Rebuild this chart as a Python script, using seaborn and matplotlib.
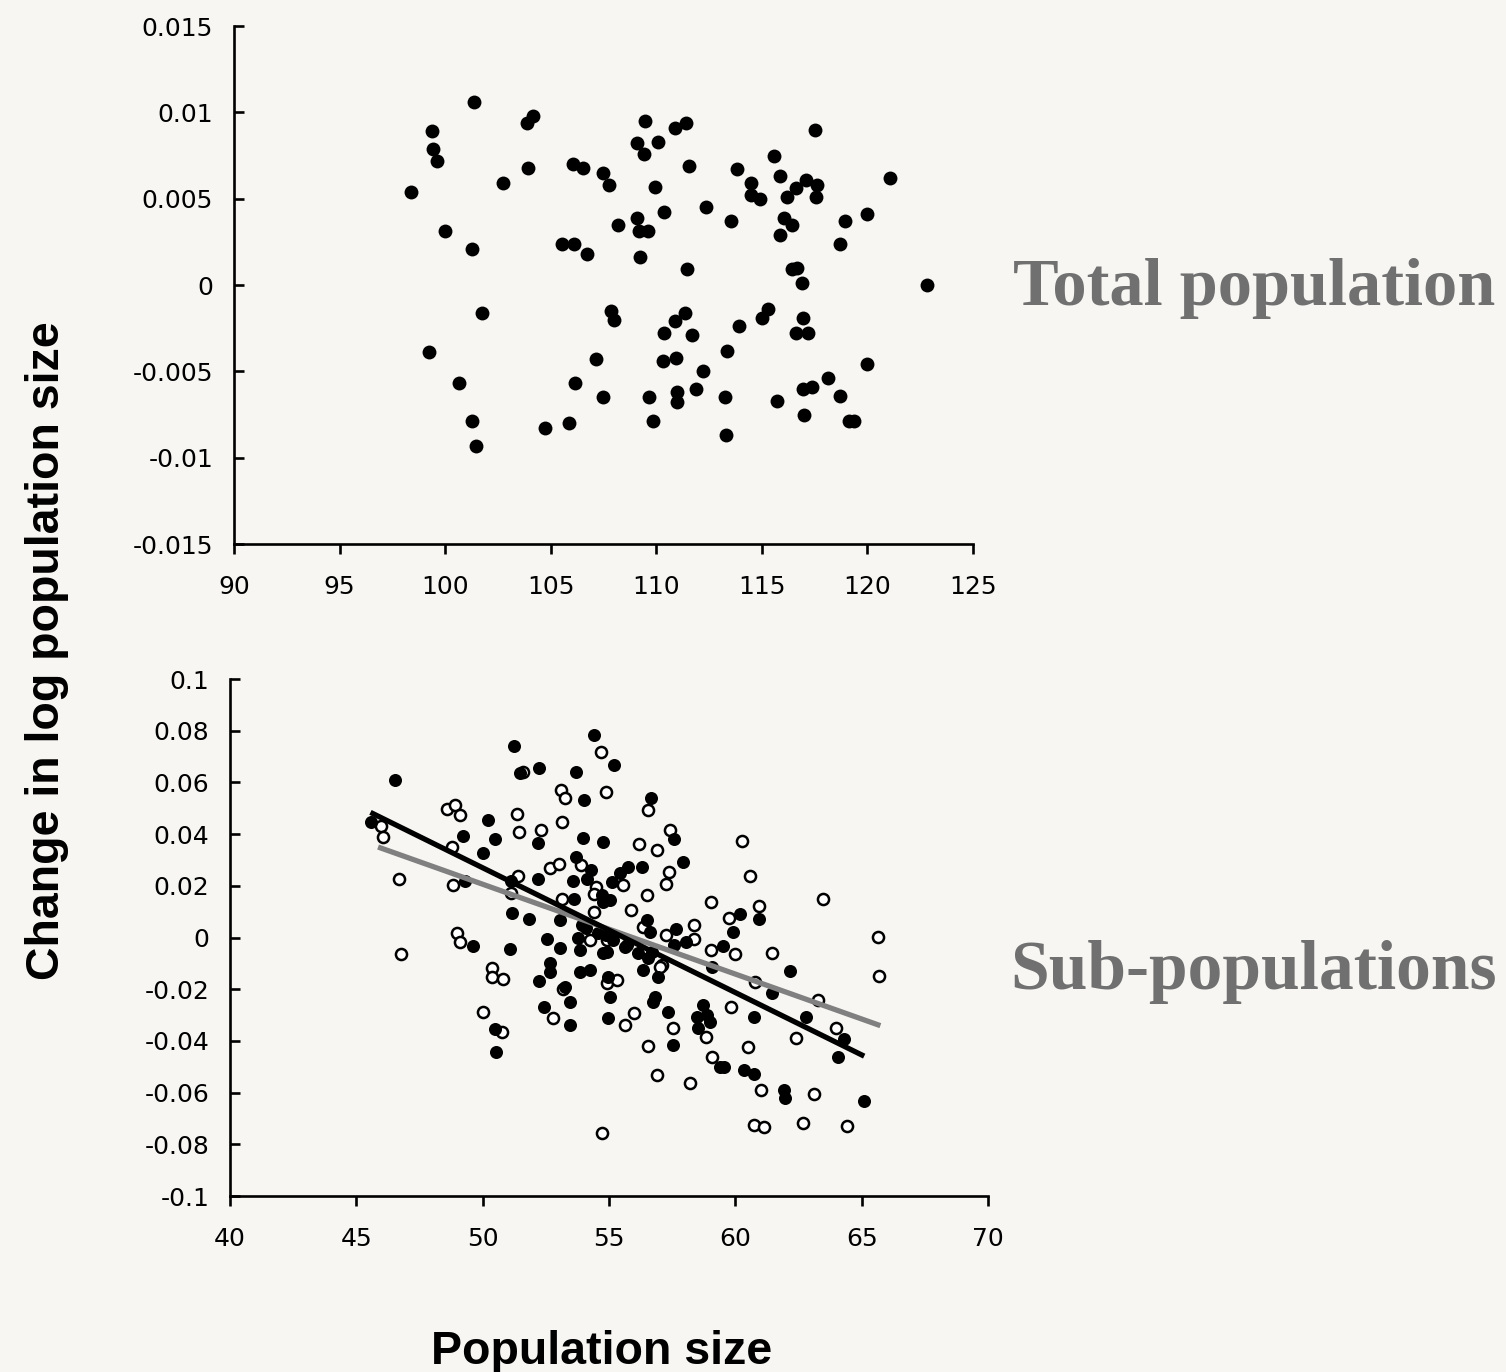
import matplotlib
matplotlib.use("Agg")
import matplotlib.pyplot as plt
import seaborn as sns
import numpy as np

# ---------------- data ----------------
total_x = [101.37, 99.38, 99.43, 99.62, 98.38, 104.17, 103.88, 103.93, 102.74, 109.47,
           110.90, 109.09, 109.40, 110.10, 106.06, 106.53, 107.48, 107.76, 109.94, 110.37,
           108.20, 109.09, 109.19, 109.60, 109.23, 100.00, 101.27, 105.54, 106.10, 106.72,
           101.75, 107.86, 108.00, 99.24, 100.66, 107.15, 106.15, 107.48, 109.66, 109.85,
           110.37, 110.90, 111.36, 110.32, 110.94, 111.00, 111.00, 101.27, 101.46, 104.73,
           105.87, 111.40, 111.55, 117.52, 115.58, 113.83, 115.86, 114.49, 114.49, 114.92,
           116.62, 117.10, 117.60, 117.57, 116.20, 121.08, 112.36, 113.54, 116.05, 116.43,
           115.86, 118.94, 119.99, 118.70, 111.46, 116.43, 116.67, 116.90, 122.83, 115.30,
           115.00, 116.95, 113.92, 111.70, 116.62, 117.20, 113.35, 112.20, 120.00, 118.14,
           116.95, 117.38, 111.90, 113.26, 115.72, 118.70, 117.00, 119.13, 119.37, 113.30]
total_y = [0.0106, 0.0089, 0.0079, 0.0072, 0.0054, 0.0098, 0.0094, 0.0068, 0.0059, 0.0095,
           0.0091, 0.0082, 0.0076, 0.0083, 0.0070, 0.0068, 0.0065, 0.0058, 0.0057, 0.0042,
           0.0035, 0.0039, 0.0031, 0.0031, 0.0016, 0.0031, 0.0021, 0.0024, 0.0024, 0.0018,
           -0.0016, -0.0015, -0.0020, -0.0039, -0.0057, -0.0043, -0.0057, -0.0065, -0.0065, -0.0079,
           -0.0028, -0.0021, -0.0016, -0.0044, -0.0042, -0.0062, -0.0068, -0.0079, -0.0093, -0.0083,
           -0.0080, 0.0094, 0.0069, 0.0090, 0.0075, 0.0067, 0.0063, 0.0059, 0.0052, 0.0050,
           0.0056, 0.0061, 0.0058, 0.0051, 0.0051, 0.0062, 0.0045, 0.0037, 0.0039, 0.0035,
           0.0029, 0.0037, 0.0041, 0.0024, 0.0009, 0.0009, 0.0010, 0.0001, 0.0000, -0.0014,
           -0.0019, -0.0019, -0.0024, -0.0029, -0.0028, -0.0028, -0.0038, -0.0050, -0.0046, -0.0054,
           -0.0060, -0.0059, -0.0060, -0.0065, -0.0067, -0.0064, -0.0075, -0.0079, -0.0079, -0.0087]

# sub-population A (filled circles)
subA_x = [51.24, 46.53, 52.23, 51.48, 45.58, 50.20, 49.22, 50.49, 50.00, 52.19,
          52.19, 49.30, 51.16, 51.83, 53.06, 52.55, 53.06, 51.08, 49.60, 52.66,
          52.66, 52.23, 53.26, 53.45, 52.43, 53.45, 50.49, 50.53, 51.12, 54.40,
          55.20, 53.69, 54.00, 56.66, 57.57, 53.97, 54.76, 57.93, 53.69, 54.29,
          55.75, 55.43, 56.30, 53.57, 54.13, 55.12, 54.72, 55.04, 54.76, 53.61,
          56.50, 56.62, 57.65, 58.05, 57.57, 53.93, 53.77, 54.56, 55.16, 55.71,
          53.85, 54.76, 56.15, 53.85, 54.25, 54.96, 56.34, 56.94, 55.04, 56.82,
          56.74, 57.33, 54.96, 57.53, 58.72, 58.48, 58.88, 59.00, 58.52, 59.39,
          60.93, 60.18, 59.90, 59.51, 59.07, 62.16, 61.45, 60.74, 62.80, 64.30,
          64.06, 59.55, 60.34, 60.74, 61.92, 61.96, 65.09, 56.54, 56.70, 54.10,
          54.90, 55.63, 54.92]
subA_y = [0.0741, 0.0610, 0.0656, 0.0636, 0.0448, 0.0455, 0.0393, 0.0381, 0.0327, 0.0366,
          0.0226, 0.0219, 0.0095, 0.0072, 0.0068, -0.0006, -0.0041, -0.0045, -0.0033, -0.0099,
          -0.0134, -0.0168, -0.0191, -0.0250, -0.0269, -0.0339, -0.0354, -0.0443, 0.0219, 0.0784,
          0.0668, 0.0640, 0.0532, 0.0540, 0.0381, 0.0385, 0.0370, 0.0292, 0.0312, 0.0261,
          0.0273, 0.0249, 0.0273, 0.0219, 0.0226, 0.0215, 0.0165, 0.0145, 0.0138, 0.0149,
          0.0068, 0.0021, 0.0033, -0.0017, -0.0029, 0.0048, -0.0002, 0.0017, -0.0010, -0.0029,
          -0.0048, -0.0060, -0.0060, -0.0133, -0.0126, -0.0153, -0.0126, -0.0153, -0.0230, -0.0230,
          -0.0250, -0.0288, -0.0312, -0.0416, -0.0261, -0.0308, -0.0300, -0.0327, -0.0350, -0.0501,
          0.0072, 0.0091, 0.0021, -0.0033, -0.0114, -0.0130, -0.0215, -0.0308, -0.0308, -0.0393,
          -0.0462, -0.0501, -0.0513, -0.0528, -0.0590, -0.0621, -0.0633, -0.0081, -0.0056, 0.0035,
          0.0008, -0.0037, -0.0056]

# sub-population B (open circles)
subB_x = [45.98, 46.06, 48.59, 48.90, 49.10, 46.69, 48.82, 48.78, 51.36, 51.44,
          52.31, 53.10, 53.26, 53.14, 52.66, 53.02, 51.40, 51.12, 53.14, 48.98,
          49.10, 46.77, 51.60, 50.37, 50.37, 50.80, 53.18, 52.78, 50.00, 50.77,
          54.68, 54.88, 56.54, 57.41, 56.19, 56.90, 53.89, 57.37, 57.25, 55.55,
          54.48, 54.40, 56.50, 59.03, 55.87, 54.40, 56.34, 58.36, 57.25, 58.36,
          59.03, 54.25, 54.92, 57.10, 54.92, 55.31, 57.02, 55.99, 55.63, 57.53,
          56.54, 56.90, 58.20, 54.72, 58.84, 59.07, 60.26, 60.58, 63.47, 60.93,
          59.75, 59.98, 61.45, 60.78, 63.27, 59.83, 63.98, 62.40, 60.50, 61.01,
          63.11, 60.74, 61.13, 62.68, 64.42, 65.64, 65.68]
subB_y = [0.0432, 0.0389, 0.0497, 0.0513, 0.0474, 0.0226, 0.0203, 0.0350, 0.0478, 0.0408,
          0.0416, 0.0571, 0.0540, 0.0447, 0.0269, 0.0285, 0.0238, 0.0172, 0.0149, 0.0017,
          -0.0017, -0.0064, 0.0640, -0.0118, -0.0153, -0.0161, -0.0199, -0.0312, -0.0288, -0.0366,
          0.0718, 0.0563, 0.0493, 0.0416, 0.0362, 0.0339, 0.0281, 0.0253, 0.0207, 0.0203,
          0.0196, 0.0168, 0.0165, 0.0138, 0.0107, 0.0099, 0.0041, 0.0048, 0.0010, -0.0006,
          -0.0048, -0.0010, -0.0010, -0.0106, -0.0176, -0.0164, -0.0114, -0.0292, -0.0339, -0.0350,
          -0.0420, -0.0532, -0.0563, -0.0757, -0.0385, -0.0462, 0.0373, 0.0238, 0.0149, 0.0122,
          0.0075, -0.0064, -0.0060, -0.0172, -0.0242, -0.0269, -0.0350, -0.0389, -0.0424, -0.0590,
          -0.0606, -0.0725, -0.0733, -0.0718, -0.0729, 0.0002, -0.0149]

# fitted trend lines (end points)
fitA_x = [45.56, 65.10]
fitA_y = [0.0484, -0.0459]
fitB_x = [45.86, 65.74]
fitB_y = [0.0350, -0.0341]

top_xticks = [90, 95, 100, 105, 110, 115, 120, 125]
top_yticks = [-0.015, -0.01, -0.005, 0, 0.005, 0.01, 0.015]
top_ylabels = ["-0.015", "-0.01", "-0.005", "0", "0.005", "0.01", "0.015"]
bot_xticks = [40, 45, 50, 55, 60, 65, 70]
bot_yticks = [-0.1, -0.08, -0.06, -0.04, -0.02, 0, 0.02, 0.04, 0.06, 0.08, 0.1]
bot_ylabels = ["-0.1", "-0.08", "-0.06", "-0.04", "-0.02", "0", "0.02", "0.04", "0.06", "0.08", "0.1"]

# ---------------- style ----------------
BG = "#f7f6f3"
sns.set_style("ticks")
plt.rcParams["font.family"] = ["DejaVu Sans"]
plt.rcParams["axes.unicode_minus"] = False
plt.rcParams["text.color"] = "black"

W, H = 1506, 1372
fig = plt.figure(figsize=(W / 100, H / 100), dpi=100, facecolor=BG)

def frac(l, t, r, b):
    return [l / W, 1 - b / H, (r - l) / W, (b - t) / H]

ax1 = fig.add_axes(frac(234, 26, 973, 544))
ax2 = fig.add_axes(frac(230, 679, 988, 1196))

for ax in (ax1, ax2):
    ax.set_facecolor(BG)
    sns.despine(ax=ax)
    for s in ("left", "bottom"):
        ax.spines[s].set_linewidth(1.9)
        ax.spines[s].set_color("black")
    ax.tick_params(axis="y", direction="in", length=7, width=1.9, pad=15,
                   labelsize=18, colors="black")
    ax.tick_params(axis="x", direction="out", length=7, width=1.9, pad=15,
                   labelsize=18, colors="black")

# top panel
sns.scatterplot(x=total_x, y=total_y, ax=ax1, color="black", s=100,
                edgecolor="black", linewidth=0, zorder=3)
ax1.set_xlim(90, 125)
ax1.set_ylim(-0.015, 0.015)
ax1.set_xticks(top_xticks)
ax1.set_xticklabels([str(t) for t in top_xticks])
ax1.set_yticks(top_yticks)
ax1.set_yticklabels(top_ylabels)

# bottom panel
sns.scatterplot(x=subB_x, y=subB_y, ax=ax2, color="white", s=64,
                edgecolor="black", linewidth=1.8, zorder=3)
sns.scatterplot(x=subA_x, y=subA_y, ax=ax2, color="black", s=88,
                edgecolor="black", linewidth=0, zorder=4)
sns.lineplot(x=fitB_x, y=fitB_y, ax=ax2, color="#808080", linewidth=3.8,
             solid_capstyle="butt", zorder=5)
sns.lineplot(x=fitA_x, y=fitA_y, ax=ax2, color="black", linewidth=3.8,
             solid_capstyle="butt", zorder=6)
ax2.set_xlim(40, 70)
ax2.set_ylim(-0.1, 0.1)
ax2.set_xticks(bot_xticks)
ax2.set_xticklabels([str(t) for t in bot_xticks])
ax2.set_yticks(bot_yticks)
ax2.set_yticklabels(bot_ylabels)

for ax in (ax1, ax2):
    ax.set_xlabel("")
    ax.set_ylabel("")
    for lab in ax.get_xticklabels() + ax.get_yticklabels():
        lab.set_fontfamily("DejaVu Sans")
        lab.set_color("black")

# axis titles
fig.text(47 / W, 1 - 651 / H, "Change in log population size", rotation=90,
         ha="center", va="center", fontsize=33.5, fontweight="bold", color="black",
         family=["Liberation Sans", "DejaVu Sans"])
fig.text(602 / W, 1 - 1364 / H, "Population size", ha="center", va="baseline",
         fontsize=33.5, fontweight="bold", color="black",
         family=["Liberation Sans", "DejaVu Sans"])

# panel labels
fig.text(1013 / W, 1 - 305 / H, "Total population", ha="left", va="baseline",
         fontsize=49.2, fontweight="bold", color="#707070",
         family=["Liberation Serif", "DejaVu Serif"])
fig.text(1010 / W, 1 - 989 / H, "Sub-populations", ha="left", va="baseline",
         fontsize=50, fontweight="bold", color="#707070",
         family=["Liberation Serif", "DejaVu Serif"])

fig.savefig("out.png", dpi=100, facecolor=BG)
